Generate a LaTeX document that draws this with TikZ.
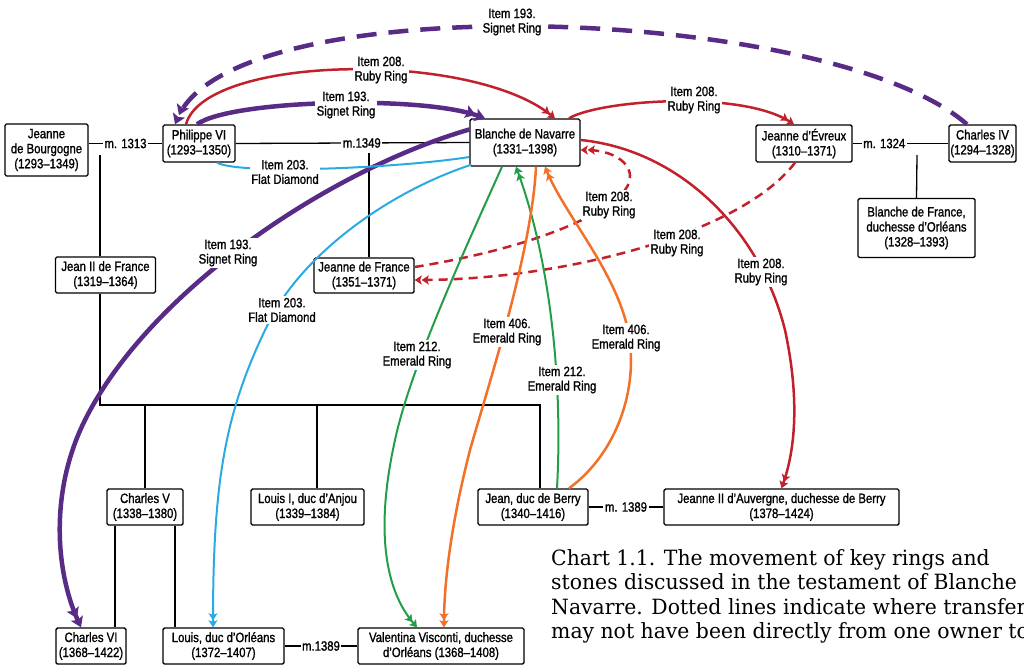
\documentclass[tikz,border=0pt]{standalone}
\usepackage{fontspec}
\usepackage{tikz}
\usetikzlibrary{arrows.meta}
\newfontfamily\chartfont{Liberation Sans}[FakeStretch=0.84,FakeBold=1.2]
\newfontfamily\capfont{DejaVu Serif}[FakeStretch=0.97]
\definecolor{ring_purple}{RGB}{88,44,134}
\definecolor{ring_red}{RGB}{194,32,42}
\definecolor{ring_blue}{RGB}{41,171,226}
\definecolor{ring_green}{RGB}{35,158,72}
\definecolor{ring_orange}{RGB}{243,112,40}

\begin{document}
\begin{tikzpicture}[x=1pt,y=-1pt,
    person/.style={draw,line width=1.4pt,rounded corners=1.5pt,fill=white,align=center,inner sep=0pt,font={\chartfont\fontsize{13.5}{15}\selectfont}},
    itemlbl/.style={fill=white,align=center,inner sep=1.5pt,font={\chartfont\fontsize{13.5}{14.5}\selectfont}},
    kin/.style={line width=1.3pt},
    gift/.style={-{Stealth[length=7pt,width=9pt,inset=1.5pt]Stealth[length=7pt,width=9pt,inset=1.5pt]}},
    biggift/.style={-{Stealth[length=10pt,width=13pt,inset=2pt]Stealth[length=10pt,width=13pt,inset=2pt]}}]
    \useasboundingbox (0,0) rectangle (1024,667);
    %人物
    \node[person,minimum width=83pt,minimum height=52pt] (bourg) at (46.5,150) {Jeanne\\de Bourgogne\\(1293–1349)};
    \node[person,minimum width=72pt,minimum height=37pt] (phil) at (199,143.5) {Philippe VI\\(1293–1350)};
    \node[person,minimum width=110pt,minimum height=47pt] (blanche) at (525,142.5) {Blanche de Navarre\\(1331–1398)};
    \node[person,minimum width=96pt,minimum height=37pt] (evreux) at (804,143.5) {Jeanne d’Évreux\\(1310–1371)};
    \node[person,minimum width=67pt,minimum height=37pt] (charles4) at (982.5,143.5) {Charles IV\\(1294–1328)};
    \node[person,minimum width=117pt,minimum height=59pt] (bfrance) at (916.5,228) {Blanche de France,\\duchesse d’Orléans\\(1328–1393)};
    \node[person,minimum width=100pt,minimum height=36pt] (jean2) at (105.5,275) {Jean II de France\\(1319–1364)};
    \node[person,minimum width=100pt,minimum height=35pt] (jfrance) at (364,275.5) {Jeanne de France\\(1351–1371)};
    \node[person,minimum width=76pt,minimum height=36pt] (charles5) at (145,507) {Charles V\\(1338–1380)};
    \node[person,minimum width=113pt,minimum height=36pt] (anjou) at (307.5,507) {Louis I, duc d’Anjou\\(1339–1384)};
    \node[person,minimum width=110pt,minimum height=36pt] (berry) at (533,507) {Jean, duc de Berry\\(1340–1416)};
    \node[person,minimum width=235pt,minimum height=36pt] (auvergne) at (781.5,507) {Jeanne II d’Auvergne, duchesse de Berry\\(1378–1424)};
    \node[person,minimum width=70pt,minimum height=36pt] (charles6) at (91,646) {Charles VI\\(1368–1422)};
    \node[person,minimum width=121pt,minimum height=36pt] (louis) at (223.5,646) {Louis, duc d’Orléans\\(1372–1407)};
    \node[person,minimum width=166pt,minimum height=36pt] (valentina) at (441,646) {Valentina Visconti, duchesse\\d’Orléans (1368–1408)};
    %婚姻と親子
    \draw[kin] (bourg.east |- phil.west) -- node[itemlbl]{m. 1313} (phil.west);
    \draw[kin] (phil.east) -- node[itemlbl,pos=0.54]{m.1349} (blanche.west);
    \draw[kin] (evreux.east) -- node[itemlbl,pos=0.33]{m. 1324} (charles4.west);
    \draw[kin] (louis.east) -- node[itemlbl]{m.1389} (valentina.west);
    \draw[kin] (berry.east) -- node[itemlbl]{m. 1389} (auvergne.west);
    \coordinate (w13) at (100,155);
    \coordinate (w49) at (369,153);
    \coordinate (w24) at (917,155);
    \coordinate (sib) at (100,405);
    \coordinate (sibend) at (540,405);
    \draw[kin] (w49) -- (w49 |- jfrance.north);
    \draw[kin] (w24) -- (bfrance.north);
    \draw[kin] (w13) -- (w13 |- jean2.north);
    \draw[kin] (w13 |- jean2.south) -- (sib) -- (sibend) -- (sibend |- berry.north);
    \draw[kin] (charles5.north |- sib) -- (charles5.north);
    \draw[kin] (317,0 |- sib) -- (317,0 |- anjou.north);
    \draw[kin] (115,0 |- charles5.south) -- (115,0 |- charles6.north);
    \draw[kin] (175,0 |- charles5.south) -- (175,0 |- louis.north);
    %Item 193
    \draw[ring_purple,line width=4.5pt,dash pattern=on 20pt off 12pt,biggift] ([xshift=-15.5pt]charles4.north) .. controls (830,5) and (235,-15) .. ([xshift=-24pt]phil.north);
    \draw[ring_purple,line width=4.5pt,biggift] ([xshift=-2pt]phil.north) .. controls (230,100) and (420,95) .. ([xshift=-40pt]blanche.north);
    \draw[ring_purple,line width=4.5pt,biggift] ([yshift=13pt]blanche.west) .. controls (330,170) and (150,290) .. (85,420) .. controls (50,490) and (55,570) .. ([xshift=-10pt]charles6.north);
    %Item 208
    \draw[ring_red,line width=2.5pt,gift] ([xshift=-13pt]phil.north) .. controls (205,55) and (470,50) .. ([xshift=30pt]blanche.north);
    \draw[ring_red,line width=2.5pt,gift] ([xshift=44pt]blanche.north) .. controls (600,100) and (740,90) .. ([xshift=-10pt]evreux.north);
    \draw[ring_red,line width=2.5pt,dash pattern=on 9pt off 6pt,gift] ([xshift=-9pt]evreux.south) .. controls (740,235) and (560,280) .. ([yshift=-4.5pt]jfrance.east);
    \draw[ring_red,line width=2.5pt,dash pattern=on 9pt off 6pt,gift] ([yshift=8.5pt]jfrance.east) .. controls (520,250) and (600,220) .. (625,190) .. controls (640,170) and (620,150) .. ([yshift=-7.5pt]blanche.east);
    \draw[ring_red,line width=2.5pt,gift] ([yshift=2.5pt]blanche.east) .. controls (680,150) and (760,230) .. (785,330) .. controls (800,400) and (795,450) .. (auvergne.north);
    %Item 203
    \draw[ring_blue,line width=2pt] ([xshift=18pt]phil.south) .. controls (240,175) and (400,168) .. ([yshift=-14.5pt]blanche.west);
    \draw[ring_blue,line width=2pt,gift] ([xshift=2pt,yshift=2pt]blanche.south west) .. controls (380,195) and (300,260) .. (270,320) .. controls (225,410) and (213,480) .. ([xshift=-10.5pt]louis.north);
    %Item 212
    \draw[ring_green,line width=2pt,gift] ([xshift=-23pt]blanche.south) .. controls (460,260) and (410,370) .. (395,440) .. controls (375,530) and (385,590) .. ([xshift=-24pt]valentina.north);
    \draw[ring_green,line width=2pt,gift] ([xshift=24pt]berry.north) .. controls (563,380) and (550,260) .. ([xshift=-9pt]blanche.south);
    %Item 406
    \draw[ring_orange,line width=2.5pt,gift] ([xshift=11pt]blanche.south) .. controls (532,250) and (490,380) .. (470,450) .. controls (452,520) and (444,580) .. ([xshift=3pt]valentina.north);
    \draw[ring_orange,line width=2.5pt,gift] ([xshift=36pt]berry.north) .. controls (615,455) and (640,390) .. (628,330) .. controls (615,270) and (565,215) .. ([xshift=20pt]blanche.south);
    %ラベル
    \node[itemlbl] (l193top) at (512,22) {Item 193.\\Signet Ring};
    \node[itemlbl] (l208phil) at (381,70) {Item 208.\\Ruby Ring};
    \node[itemlbl] (l193phil) at (346,105) {Item 193.\\Signet Ring};
    \node[itemlbl] (l203phil) at (285,172) {Item 203.\\Flat Diamond};
    \node[itemlbl] (l208evr) at (694,100) {Item 208.\\Ruby Ring};
    \node[itemlbl] (l208loop) at (609,205) {Item 208.\\Ruby Ring};
    \node[itemlbl] (l208jf) at (677,243) {Item 208.\\Ruby Ring};
    \node[itemlbl] (l208auv) at (761,272) {Item 208.\\Ruby Ring};
    \node[itemlbl] (l193ch6) at (228,253) {Item 193.\\Signet Ring};
    \node[itemlbl] (l203louis) at (282,310) {Item 203.\\Flat Diamond};
    \node[itemlbl] (l212val) at (417,355) {Item 212.\\Emerald Ring};
    \node[itemlbl] (l406val) at (507,332) {Item 406.\\Emerald Ring};
    \node[itemlbl] (l212berry) at (562,380) {Item 212.\\Emerald Ring};
    \node[itemlbl] (l406berry) at (626,338) {Item 406.\\Emerald Ring};
    %キャプション
    \node[anchor=north west,align=left,inner sep=0pt,font={\capfont\fontsize{21}{24.5}\selectfont}] (caption) at (551,549) {Chart 1.1. The movement of key rings and\\stones discussed in the testament of Blanche\\Navarre. Dotted lines indicate where transfers\\may not have been directly from one owner to};
\end{tikzpicture}
\end{document}
